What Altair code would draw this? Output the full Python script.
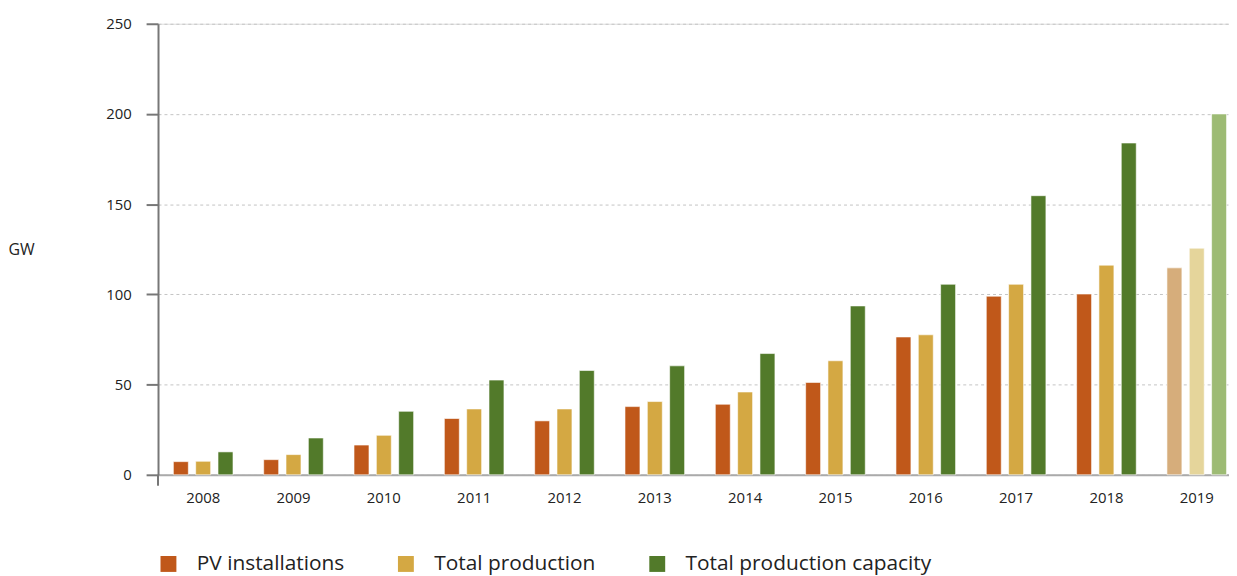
import altair as alt
import pandas as pd

years = ["2008", "2009", "2010", "2011", "2012", "2013", "2014", "2015", "2016", "2017", "2018", "2019"]
pv_installations = [7.3, 8.4, 16.5, 31.2, 29.9, 37.8, 39.1, 51.2, 76.4, 99.0, 100.2, 114.7]
total_production = [7.5, 11.2, 21.9, 36.5, 36.5, 40.6, 45.9, 63.2, 77.6, 105.6, 116.2, 125.6]
total_capacity = [12.7, 20.4, 35.2, 52.5, 57.8, 60.4, 67.2, 93.6, 105.6, 154.7, 183.9, 200.0]
series_names = ["PV installations", "Total production", "Total production capacity"]
colors = ["#C0581A", "#D4A843", "#527A2A"]
colors_2019 = ["#D6AD7B", "#E5D59B", "#9DBB74"]

rows = []
for i, y in enumerate(years):
    for s, vals in zip(series_names, [pv_installations, total_production, total_capacity]):
        key = s + (" (2019)" if y == "2019" else "")
        rows.append({"year": y, "series": s, "value": vals[i], "key": key})
df = pd.DataFrame(rows)

W, H = 1078, 454
XRANGE = 1091
FONT = "Open Sans"

bars = alt.Chart(df).mark_bar(stroke="white", strokeOpacity=0.6, strokeWidth=1).encode(
    x=alt.X("year:N", sort=years,
            scale=alt.Scale(paddingInner=0.34, paddingOuter=0.17, range=[0, XRANGE]),
            axis=alt.Axis(title=None, labelAngle=0, tickSize=0, labelPadding=16,
                          labelFontSize=15, labelColor="#222", labelFont=FONT,
                          domainColor="#aaa", domainWidth=2, grid=False)),
    xOffset=alt.XOffset("series:N", sort=series_names,
                        scale=alt.Scale(paddingInner=0.33, paddingOuter=0)),
    y=alt.Y("value:Q", scale=alt.Scale(domain=[0, 250], nice=False),
            axis=alt.Axis(values=[0, 50, 100, 150, 200, 250], title="GW",
                          titleAngle=0, titleX=-151, titleY=H / 2,
                          titleAlign="left", titleBaseline="middle",
                          titleFontSize=16, titleFontWeight=500, titleColor="#222",
                          titleFont=FONT,
                          labelFontSize=15, labelColor="#222", labelFont=FONT,
                          labelPadding=15,
                          tickSize=12, tickColor="#777", tickWidth=2,
                          domainColor="#777", domainWidth=2,
                          gridColor="#c4c4c4", gridDash=[3, 3], gridWidth=1)),
    color=alt.Color("key:N",
                    scale=alt.Scale(domain=series_names + [s + " (2019)" for s in series_names],
                                    range=colors + colors_2019),
                    legend=alt.Legend(values=series_names, title=None, orient="none",
                                      direction="horizontal", legendX=0, legendY=533,
                                      symbolType="square", symbolSize=256,
                                      symbolStrokeWidth=0, symbolOpacity=1,
                                      labelFontSize=21, labelColor="#222", labelFont=FONT,
                                      labelFontWeight=500, labelLimit=0,
                                      columnPadding=51, labelOffset=18)),
)

axis_ext = alt.Chart(pd.DataFrame({"a": [0]})).mark_rule(color="#777", strokeWidth=2).encode(
    x=alt.value(0), y=alt.value(H), y2=alt.value(H + 11)
)

chart = alt.layer(bars, axis_ext).properties(
    width=W, height=H,
    autosize=alt.AutoSizeParams(type="none"),
    padding={"left": 151, "top": 14, "right": 0, "bottom": 100},
).configure_view(stroke=None).configure(background="white")

chart.save("out.html", embed_options={"renderer": "svg", "actions": False})
